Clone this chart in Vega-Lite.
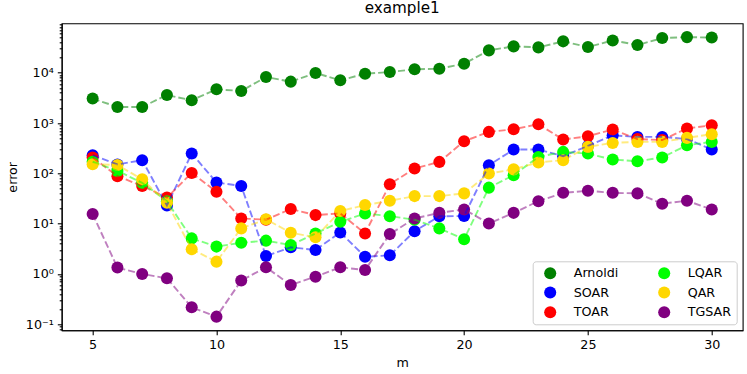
{
  "$schema": "https://vega.github.io/schema/vega-lite/v6.json",
  "width": 681,
  "height": 307,
  "autosize": {"type": "none"},
  "padding": {"left": 61.7, "top": 23.3, "right": 4.3, "bottom": 43.7},
  "background": "white",
  "title": {"text": "example1", "fontSize": 15.2, "font": "DejaVu Sans", "fontWeight": "normal", "color": "black", "offset": 3},
  "config": {"view": {"stroke": "black", "strokeWidth": 1.1}, "font": "DejaVu Sans"},
  "data": {"values": [
    {"m":5,"method":"Arnoldi","error":3060},{"m":6,"method":"Arnoldi","error":2090},{"m":7,"method":"Arnoldi","error":2090},{"m":8,"method":"Arnoldi","error":3600},{"m":9,"method":"Arnoldi","error":2830},{"m":10,"method":"Arnoldi","error":4680},{"m":11,"method":"Arnoldi","error":4330},{"m":12,"method":"Arnoldi","error":8220},{"m":13,"method":"Arnoldi","error":6650},{"m":14,"method":"Arnoldi","error":9880},{"m":15,"method":"Arnoldi","error":7070},{"m":16,"method":"Arnoldi","error":9560},{"m":17,"method":"Arnoldi","error":10300},{"m":18,"method":"Arnoldi","error":11700},{"m":19,"method":"Arnoldi","error":12000},{"m":20,"method":"Arnoldi","error":15100},{"m":21,"method":"Arnoldi","error":27800},{"m":22,"method":"Arnoldi","error":33400},{"m":23,"method":"Arnoldi","error":31900},{"m":24,"method":"Arnoldi","error":42000},{"m":25,"method":"Arnoldi","error":32400},{"m":26,"method":"Arnoldi","error":43900},{"m":27,"method":"Arnoldi","error":35500},{"m":28,"method":"Arnoldi","error":48800},{"m":29,"method":"Arnoldi","error":51000},{"m":30,"method":"Arnoldi","error":50000},
    {"m":5,"method":"SOAR","error":230},{"m":6,"method":"SOAR","error":150},{"m":7,"method":"SOAR","error":183},{"m":8,"method":"SOAR","error":23},{"m":9,"method":"SOAR","error":248},{"m":10,"method":"SOAR","error":66},{"m":11,"method":"SOAR","error":56},{"m":12,"method":"SOAR","error":2.27},{"m":13,"method":"SOAR","error":3.39},{"m":14,"method":"SOAR","error":3.0},{"m":15,"method":"SOAR","error":6.7},{"m":16,"method":"SOAR","error":2.2},{"m":17,"method":"SOAR","error":2.35},{"m":18,"method":"SOAR","error":7.1},{"m":19,"method":"SOAR","error":14},{"m":20,"method":"SOAR","error":14.2},{"m":21,"method":"SOAR","error":145},{"m":22,"method":"SOAR","error":297},{"m":23,"method":"SOAR","error":297},{"m":24,"method":"SOAR","error":220},{"m":25,"method":"SOAR","error":350},{"m":26,"method":"SOAR","error":570},{"m":27,"method":"SOAR","error":530},{"m":28,"method":"SOAR","error":530},{"m":29,"method":"SOAR","error":480},{"m":30,"method":"SOAR","error":298},
    {"m":5,"method":"TOAR","error":207},{"m":6,"method":"TOAR","error":88},{"m":7,"method":"TOAR","error":56},{"m":8,"method":"TOAR","error":33},{"m":9,"method":"TOAR","error":102},{"m":10,"method":"TOAR","error":43},{"m":11,"method":"TOAR","error":12.7},{"m":12,"method":"TOAR","error":12},{"m":13,"method":"TOAR","error":19.5},{"m":14,"method":"TOAR","error":14.8},{"m":15,"method":"TOAR","error":16},{"m":16,"method":"TOAR","error":6.4},{"m":17,"method":"TOAR","error":61},{"m":18,"method":"TOAR","error":125},{"m":19,"method":"TOAR","error":169},{"m":20,"method":"TOAR","error":435},{"m":21,"method":"TOAR","error":667},{"m":22,"method":"TOAR","error":753},{"m":23,"method":"TOAR","error":946},{"m":24,"method":"TOAR","error":470},{"m":25,"method":"TOAR","error":547},{"m":26,"method":"TOAR","error":742},{"m":27,"method":"TOAR","error":480},{"m":28,"method":"TOAR","error":460},{"m":29,"method":"TOAR","error":780},{"m":30,"method":"TOAR","error":904},
    {"m":5,"method":"LQAR","error":170},{"m":6,"method":"LQAR","error":112},{"m":7,"method":"LQAR","error":65},{"m":8,"method":"LQAR","error":28},{"m":9,"method":"LQAR","error":5.1},{"m":10,"method":"LQAR","error":3.5},{"m":11,"method":"LQAR","error":4.18},{"m":12,"method":"LQAR","error":4.6},{"m":13,"method":"LQAR","error":3.76},{"m":14,"method":"LQAR","error":6.4},{"m":15,"method":"LQAR","error":10.9},{"m":16,"method":"LQAR","error":16},{"m":17,"method":"LQAR","error":14.1},{"m":18,"method":"LQAR","error":12},{"m":19,"method":"LQAR","error":8.06},{"m":20,"method":"LQAR","error":4.9},{"m":21,"method":"LQAR","error":52},{"m":22,"method":"LQAR","error":92},{"m":23,"method":"LQAR","error":212},{"m":24,"method":"LQAR","error":267},{"m":25,"method":"LQAR","error":247},{"m":26,"method":"LQAR","error":188},{"m":27,"method":"LQAR","error":174},{"m":28,"method":"LQAR","error":207},{"m":29,"method":"LQAR","error":362},{"m":30,"method":"LQAR","error":422},
    {"m":5,"method":"QAR","error":152},{"m":6,"method":"QAR","error":146},{"m":7,"method":"QAR","error":76},{"m":8,"method":"QAR","error":26},{"m":9,"method":"QAR","error":3.1},{"m":10,"method":"QAR","error":1.76},{"m":11,"method":"QAR","error":8.06},{"m":12,"method":"QAR","error":12.2},{"m":13,"method":"QAR","error":6.6},{"m":14,"method":"QAR","error":5.35},{"m":15,"method":"QAR","error":17.8},{"m":16,"method":"QAR","error":23.4},{"m":17,"method":"QAR","error":28.5},{"m":18,"method":"QAR","error":35.3},{"m":19,"method":"QAR","error":35.3},{"m":20,"method":"QAR","error":40},{"m":21,"method":"QAR","error":99},{"m":22,"method":"QAR","error":120},{"m":23,"method":"QAR","error":165},{"m":24,"method":"QAR","error":183},{"m":25,"method":"QAR","error":336},{"m":26,"method":"QAR","error":403},{"m":27,"method":"QAR","error":422},{"m":28,"method":"QAR","error":422},{"m":29,"method":"QAR","error":507},{"m":30,"method":"QAR","error":600},
    {"m":5,"method":"TGSAR","error":15.5},{"m":6,"method":"TGSAR","error":1.34},{"m":7,"method":"TGSAR","error":1.0},{"m":8,"method":"TGSAR","error":0.82},{"m":9,"method":"TGSAR","error":0.218},{"m":10,"method":"TGSAR","error":0.142},{"m":11,"method":"TGSAR","error":0.74},{"m":12,"method":"TGSAR","error":1.36},{"m":13,"method":"TGSAR","error":0.605},{"m":14,"method":"TGSAR","error":0.885},{"m":15,"method":"TGSAR","error":1.36},{"m":16,"method":"TGSAR","error":1.2},{"m":17,"method":"TGSAR","error":6.2},{"m":18,"method":"TGSAR","error":12.7},{"m":19,"method":"TGSAR","error":16.4},{"m":20,"method":"TGSAR","error":19.2},{"m":21,"method":"TGSAR","error":10.1},{"m":22,"method":"TGSAR","error":16.4},{"m":23,"method":"TGSAR","error":28},{"m":24,"method":"TGSAR","error":41},{"m":25,"method":"TGSAR","error":45},{"m":26,"method":"TGSAR","error":41},{"m":27,"method":"TGSAR","error":40},{"m":28,"method":"TGSAR","error":25},{"m":29,"method":"TGSAR","error":28.5},{"m":30,"method":"TGSAR","error":19.2}
  ]},
  "layer": [
    {
      "mark": {"type": "point", "filled": true, "opacity": 1, "size": 145, "strokeWidth": 0},
      "encoding": {
        "x": {"field": "m", "type": "quantitative",
          "scale": {"domain": [3.75, 31.25], "nice": false, "zero": false},
          "axis": {"title": "m", "values": [5, 10, 15, 20, 25, 30], "grid": false, "tickSize": 4.4, "tickWidth": 1.1, "tickColor": "black", "domainColor": "black", "domainWidth": 1.1, "labelFontSize": 12.7, "labelColor": "black", "labelPadding": 4, "titleFontSize": 12.7, "titleFontWeight": "normal", "titleColor": "black", "titlePadding": 5, "labelFlush": false}},
        "y": {"field": "error", "type": "quantitative",
          "scale": {"type": "log", "domain": [0.076, 96000], "nice": false},
          "axis": {"title": "error",
            "values": [0.08,0.09,0.1,0.2,0.3,0.4,0.5,0.6,0.7,0.8,0.9,1,2,3,4,5,6,7,8,9,10,20,30,40,50,60,70,80,90,100,200,300,400,500,600,700,800,900,1000,2000,3000,4000,5000,6000,7000,8000,9000,10000,20000,30000,40000,50000,60000,70000,80000,90000],
            "labelExpr": "abs(log(datum.value)/LN10 - round(log(datum.value)/LN10)) > 0.001 ? '' : (round(log(datum.value)/LN10) == -1 ? '10⁻¹' : round(log(datum.value)/LN10) == 0 ? '10⁰' : round(log(datum.value)/LN10) == 1 ? '10¹' : round(log(datum.value)/LN10) == 2 ? '10²' : round(log(datum.value)/LN10) == 3 ? '10³' : '10⁴')",
            "tickSize": {"condition": {"test": "abs(log(datum.value)/LN10 - round(log(datum.value)/LN10)) < 0.001", "value": 4.4}, "value": 2.5},
            "grid": false, "tickWidth": 1.1, "tickColor": "black", "domainColor": "black", "domainWidth": 1.1, "labelFontSize": 12.7, "labelColor": "black", "labelPadding": 4, "labelOverlap": false, "labelBound": false, "labelFlush": false, "titleFontSize": 12.7, "titleFontWeight": "normal", "titleColor": "black", "titlePadding": 6}},
        "color": {"field": "method", "type": "nominal",
          "scale": {"domain": ["Arnoldi", "SOAR", "TOAR", "LQAR", "QAR", "TGSAR"], "range": ["#008000", "#0000ff", "#ff0000", "#00ff00", "#ffd700", "#800080"]},
          "legend": {"title": null, "orient": "bottom-right", "offset": 6, "columns": 2, "symbolType": "circle", "symbolSize": 145, "symbolStrokeWidth": 0, "symbolOpacity": 1, "symbolOffset": 6, "labelFontSize": 12.7, "labelColor": "black", "labelOffset": 17, "rowPadding": 5.7, "columnPadding": 33, "padding": 5, "fillColor": "rgba(255,255,255,0.8)", "strokeColor": "#cccccc", "cornerRadius": 3}}
      }
    },
    {
      "mark": {"type": "line", "strokeDash": [7, 3], "strokeWidth": 1.9, "opacity": 0.5},
      "encoding": {
        "x": {"field": "m", "type": "quantitative"},
        "y": {"field": "error", "type": "quantitative"},
        "color": {"field": "method", "type": "nominal", "legend": null}
      }
    }
  ]
}
